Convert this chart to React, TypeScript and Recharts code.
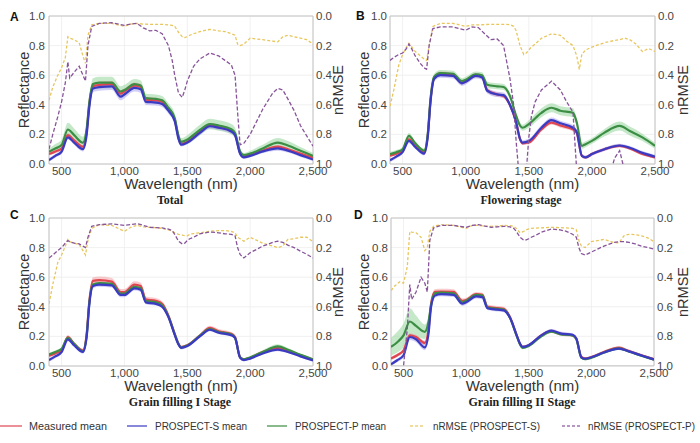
import React from 'react';
import { ComposedChart, Line, Area, XAxis, YAxis, CartesianGrid, ReferenceArea } from 'recharts';

// Wavelength grid for reflectance spectra (nm)
const WL = [400, 450, 500, 550, 600, 670, 700, 720, 750, 800, 900, 970, 1000, 1080, 1130, 1170, 1250, 1300, 1350, 1400, 1430, 1450, 1500, 1600, 1680, 1750, 1850, 1880, 1920, 1950, 2000, 2100, 2220, 2300, 2400, 2500];

// Panel A - Total
const A_MEAS = [.067, .085, .105, .195, .16, .117, .22, .40, .525, .535, .54, .476, .49, .53, .52, .435, .43, .42, .37, .30, .18, .135, .15, .215, .262, .25, .225, .20, .075, .05, .06, .09, .117, .10, .07, .043];
const A_MEAS_SD = [.012, .012, .012, .015, .012, .012, .015, .02, .02, .02, .02, .02, .02, .02, .02, .018, .018, .018, .018, .015, .012, .01, .01, .012, .015, .015, .015, .012, .01, .008, .008, .01, .012, .01, .01, .008];
const A_S = [.027, .055, .083, .18, .145, .10, .20, .38, .51, .52, .525, .455, .47, .515, .505, .42, .415, .405, .36, .29, .17, .13, .145, .21, .255, .245, .22, .195, .07, .045, .055, .085, .105, .09, .06, .03];
const A_S_SD = [.012, .012, .012, .015, .015, .015, .018, .02, .025, .025, .025, .025, .025, .025, .025, .022, .02, .02, .02, .018, .015, .012, .012, .015, .015, .015, .015, .015, .01, .01, .01, .012, .015, .012, .012, .01];
const A_P = [.083, .105, .128, .233, .195, .144, .24, .41, .54, .55, .55, .49, .50, .54, .53, .445, .44, .43, .38, .31, .19, .15, .165, .23, .27, .26, .235, .21, .085, .06, .07, .105, .145, .125, .09, .055];
const A_P_SD = [.02, .03, .035, .045, .045, .04, .035, .035, .04, .04, .04, .035, .035, .035, .035, .03, .03, .03, .03, .03, .03, .025, .03, .035, .035, .035, .035, .035, .02, .015, .02, .025, .03, .03, .025, .02];

// Panel B - Flowering stage
const B_MEAS = [.056, .07, .09, .167, .123, .08, .20, .42, .58, .61, .60, .55, .56, .60, .59, .50, .47, .46, .40, .28, .17, .14, .145, .234, .28, .26, .234, .21, .056, .045, .067, .10, .123, .105, .067, .045];
const B_MEAS_SD = [.01, .01, .01, .012, .01, .01, .015, .015, .015, .015, .015, .015, .015, .015, .015, .015, .015, .015, .015, .015, .012, .012, .012, .015, .015, .015, .015, .012, .01, .01, .01, .01, .01, .01, .01, .01];
const B_S = [.025, .05, .08, .156, .115, .07, .19, .41, .575, .60, .595, .545, .555, .595, .585, .495, .47, .465, .40, .28, .17, .145, .155, .245, .297, .275, .245, .215, .055, .045, .067, .10, .125, .11, .075, .05];
const B_S_SD = [.012, .012, .012, .015, .012, .012, .015, .018, .018, .018, .018, .018, .018, .018, .018, .018, .018, .018, .018, .015, .015, .015, .015, .018, .018, .018, .018, .015, .012, .012, .012, .012, .012, .012, .012, .012];
const B_P = [.067, .08, .10, .19, .14, .09, .21, .43, .59, .615, .61, .56, .57, .605, .60, .536, .525, .52, .46, .325, .26, .245, .27, .346, .38, .36, .346, .28, .123, .134, .156, .212, .257, .223, .18, .123];
const B_P_SD = [.015, .015, .015, .02, .015, .015, .02, .02, .02, .02, .02, .02, .02, .02, .02, .02, .02, .02, .02, .02, .02, .02, .025, .03, .03, .03, .03, .025, .02, .02, .02, .025, .03, .03, .025, .02];

// Panel C - Grain filling I
const C_MEAS = [.07, .085, .105, .195, .15, .105, .22, .43, .575, .58, .57, .50, .50, .55, .54, .45, .44, .42, .34, .217, .15, .128, .14, .206, .257, .235, .217, .195, .06, .045, .056, .094, .123, .105, .072, .042];
const C_MEAS_SD = [.012, .012, .012, .015, .012, .012, .015, .02, .025, .025, .025, .02, .02, .022, .022, .02, .02, .018, .015, .012, .01, .01, .01, .012, .015, .015, .012, .012, .008, .008, .008, .01, .01, .01, .008, .008];
const C_S = [.04, .065, .094, .18, .14, .095, .20, .41, .54, .55, .545, .48, .48, .525, .515, .43, .42, .40, .33, .21, .145, .122, .135, .20, .245, .225, .208, .19, .055, .04, .05, .085, .11, .095, .065, .038];
const C_S_SD = [.012, .012, .012, .012, .012, .012, .012, .015, .015, .015, .015, .015, .015, .015, .015, .012, .012, .012, .012, .012, .01, .01, .01, .01, .01, .01, .01, .01, .008, .008, .008, .008, .01, .008, .008, .008];
const C_P = [.078, .095, .116, .19, .15, .10, .21, .42, .55, .56, .555, .49, .49, .535, .525, .44, .43, .41, .335, .215, .15, .125, .138, .205, .25, .23, .212, .19, .06, .045, .058, .095, .132, .11, .075, .045];
const C_P_SD = [.01, .01, .01, .012, .01, .01, .01, .012, .012, .012, .012, .012, .012, .012, .012, .01, .01, .01, .01, .01, .01, .01, .01, .01, .012, .012, .01, .01, .008, .008, .01, .012, .015, .012, .01, .008];

// Panel D - Grain filling II
const D_MEAS = [.05, .072, .105, .206, .195, .155, .25, .42, .50, .503, .50, .44, .445, .485, .48, .40, .39, .385, .33, .217, .15, .128, .14, .206, .235, .217, .206, .183, .06, .05, .06, .094, .123, .10, .072, .045];
const D_MEAS_SD = [.012, .012, .012, .015, .015, .015, .015, .015, .018, .018, .018, .015, .015, .015, .015, .015, .015, .015, .012, .01, .01, .01, .01, .01, .012, .012, .01, .01, .008, .008, .008, .01, .01, .01, .008, .008];
const D_S = [.011, .038, .072, .195, .18, .125, .22, .40, .475, .485, .48, .42, .43, .47, .465, .39, .38, .375, .325, .215, .15, .128, .14, .206, .238, .22, .21, .185, .058, .048, .058, .09, .117, .098, .07, .043];
const D_S_SD = [.012, .012, .015, .02, .02, .02, .018, .015, .015, .015, .015, .015, .015, .015, .015, .012, .012, .012, .012, .01, .01, .01, .01, .01, .012, .012, .01, .01, .008, .008, .008, .008, .01, .008, .008, .008];
const D_P = [.128, .16, .206, .30, .27, .23, .30, .41, .49, .495, .49, .43, .44, .48, .475, .395, .385, .38, .325, .21, .145, .122, .135, .20, .232, .215, .205, .18, .055, .045, .055, .09, .118, .097, .068, .042];
const D_P_SD = [.06, .07, .08, .09, .07, .05, .03, .02, .012, .012, .012, .012, .012, .012, .012, .012, .012, .012, .012, .01, .01, .01, .01, .01, .01, .01, .01, .01, .008, .008, .008, .008, .01, .008, .008, .008];

// Wavelength grid for nRMSE curves (nm)
const NWL = [
  400, 430, 470, 500, 530, 550, 565, 600, 640, 670,
  690, 710, 740, 800, 900, 1000, 1050, 1100, 1150, 1200,
  1250, 1300, 1350, 1380, 1400, 1430, 1460, 1480, 1500, 1520,
  1550, 1600, 1680, 1750, 1800, 1850, 1880, 1900, 1920, 1950,
  2000, 2100, 2180, 2220, 2260, 2300, 2350, 2400, 2450, 2500,
];

const A_NS = [
  .57, .48, .40, .35, .28, .14, .15, .16, .18, .27,
  .32, .13, .06, .05, .05, .07, .055, .05, .055, .056,
  .056, .056, .06, .063, .07, .11, .14, .146, .14, .13,
  .12, .105, .09, .10, .105, .12, .13, .19, .20, .19,
  .15, .16, .17, .175, .14, .13, .14, .15, .16, .19,
];
const A_NP = [
  .90, .80, .68, .58, .45, .31, .42, .38, .34, .40,
  .44, .20, .07, .05, .045, .063, .055, .05, .08, .10,
  .097, .12, .20, .30, .40, .52, .55, .50, .44, .40,
  .34, .29, .25, .27, .30, .33, .40, .65, .87, .86,
  .80, .63, .52, .49, .50, .56, .64, .74, .81, .88,
];
const B_NS = [
  .61, .50, .33, .26, .21, .185, .20, .24, .27, .29,
  .30, .20, .07, .05, .05, .07, .06, .06, .058, .056,
  .056, .056, .058, .07, .10, .20, .26, .25, .23, .21,
  .19, .15, .12, .13, .17, .20, .27, .36, .26, .23,
  .21, .18, .165, .16, .15, .16, .19, .24, .22, .24,
];
const B_NP = [
  .30, .28, .26, .25, .22, .19, .21, .27, .32, .35,
  .36, .20, .085, .074, .074, .096, .074, .078, .12, .16,
  .155, .20, .42, .60, .85, 1.15, 1.2, 1.05, .82, .68,
  .58, .50, .44, .50, .58, .65, 1.05, 1.2, 1.2, 1.2,
  1.2, 1.2, .96, .91, 1.05, 1.2, 1.2, 1.2, 1.2, 1.2,
];
const C_NS = [
  .58, .45, .30, .25, .19, .145, .16, .17, .18, .22,
  .25, .15, .07, .045, .05, .09, .063, .05, .06, .063,
  .065, .07, .08, .09, .10, .11, .115, .12, .12, .11,
  .105, .10, .09, .085, .085, .09, .10, .13, .14, .157,
  .13, .17, .19, .20, .19, .145, .14, .13, .13, .16,
];
const C_NP = [
  .27, .25, .22, .20, .17, .152, .16, .17, .175, .19,
  .20, .13, .056, .045, .04, .05, .045, .038, .05, .063,
  .065, .067, .075, .085, .11, .157, .175, .17, .152, .14,
  .13, .107, .094, .10, .107, .11, .12, .20, .246, .27,
  .235, .19, .165, .157, .165, .183, .20, .224, .245, .27,
];
const D_NS = [
  .49, .46, .43, .44, .33, .09, .095, .10, .13, .22,
  .20, .09, .056, .045, .05, .07, .05, .05, .055, .056,
  .055, .05, .052, .056, .07, .10, .09, .08, .074, .07,
  .068, .067, .063, .065, .067, .07, .08, .15, .19, .20,
  .16, .145, .165, .168, .12, .11, .112, .12, .134, .16,
];
const D_NP = [
  1.2, 1.2, 1.15, 1.0, .75, .45, .55, .50, .40, .44,
  .50, .15, .067, .05, .05, .063, .05, .045, .055, .063,
  .06, .056, .06, .07, .09, .13, .15, .148, .14, .13,
  .12, .096, .074, .08, .09, .11, .13, .20, .24, .25,
  .23, .19, .165, .16, .16, .165, .175, .19, .20, .21,
];

const X_TICKS = [500, 1000, 1500, 2000, 2500];
const Y_TICKS = [0, 0.2, 0.4, 0.6, 0.8, 1.0];

const LEGEND_LABELS = ['Measured mean', 'PROSPECT-S mean', 'PROSPECT-P mean', 'nRMSE (PROSPECT-S)', 'nRMSE (PROSPECT-P)'];

const RED = '#e04650';
const BLUE = '#3a3ac2';
const GREEN = '#3b8e44';
const RED_BAND = '#f29aa0';
const BLUE_BAND = '#a49ff0';
const GREEN_BAND = '#96d69c';
const YELLOW = '#e8c65c';
const PURPLE = '#87549a';

const fmtX = (v: number) => v.toLocaleString('en-US');
const fmtY = (v: number) => v.toFixed(1);

type PanelProps = {
  left: number; top: number; letter: string; letterX: number; letterY: number;
  title: string; titleX: number;
  leftW: number; rightW: number; yLabelOff: number; rLabelOff: number; lTickM: number; rTickM: number;
  meas: number[]; measSd: number[]; ps: number[]; psSd: number[]; pp: number[]; ppSd: number[];
  ns: number[]; np: number[];
};

const Panel = (p: PanelProps) => {
  const rows = WL.map((w, i) => ({
    w,
    m: p.meas[i], s: p.ps[i], p: p.pp[i],
    mb: [p.meas[i] - p.measSd[i], p.meas[i] + p.measSd[i]],
    sb: [p.ps[i] - p.psSd[i], p.ps[i] + p.psSd[i]],
    pb: [p.pp[i] - p.ppSd[i], p.pp[i] + p.ppSd[i]],
  }));
  const nrows = NWL.map((w, i) => ({ w, ns: p.ns[i], np: p.np[i] }));
  const tick = { fontSize: 11.5, fill: '#454545' };
  return (
    <div style={{ position: 'absolute', left: p.left, top: p.top, width: 350, height: 205 }}>
      <ComposedChart width={350} height={205} data={rows} margin={{ top: 16, right: 0, bottom: 0, left: 0 }}>
        <CartesianGrid yAxisId="l" stroke="#ececec" strokeWidth={0.8} />
        <XAxis dataKey="w" type="number" domain={[400, 2500]} ticks={X_TICKS} interval={0} tickFormatter={fmtX}
          tickLine={false} axisLine={false} tickSize={0} tickMargin={3} height={41} tick={tick} allowDataOverflow
          label={{ value: 'Wavelength (nm)', position: 'insideBottom', offset: 16, fontSize: 15, fill: '#333' }} />
        <YAxis yAxisId="l" domain={[0, 1]} ticks={Y_TICKS} interval={0} tickFormatter={fmtY} width={p.leftW}
          tickLine={false} axisLine={false} tickSize={0} tickMargin={p.lTickM} tick={tick}
          label={{ value: 'Reflectance', angle: -90, position: 'insideLeft', offset: p.yLabelOff, fontSize: 14.5, fill: '#333', style: { textAnchor: 'middle' } }} />
        <YAxis yAxisId="r" orientation="right" reversed domain={[0, 1]} allowDataOverflow ticks={Y_TICKS} interval={0}
          tickFormatter={fmtY} width={p.rightW} tickLine={false} axisLine={false} tickSize={0} tickMargin={p.rTickM} tick={tick}
          label={{ value: 'nRMSE', angle: -90, position: 'insideRight', offset: p.rLabelOff, fontSize: 14.5, fill: '#333', style: { textAnchor: 'middle' } }} />
        <Area yAxisId="l" type="monotone" dataKey="pb" stroke="none" fill={GREEN_BAND} fillOpacity={0.55} isAnimationActive={false} activeDot={false} />
        <Area yAxisId="l" type="monotone" dataKey="mb" stroke="none" fill={RED_BAND} fillOpacity={0.5} isAnimationActive={false} activeDot={false} />
        <Area yAxisId="l" type="monotone" dataKey="sb" stroke="none" fill={BLUE_BAND} fillOpacity={0.5} isAnimationActive={false} activeDot={false} />
        <Line yAxisId="l" type="monotone" dataKey="m" stroke={RED} strokeWidth={2.2} dot={false} activeDot={false} isAnimationActive={false} />
        <Line yAxisId="l" type="monotone" dataKey="p" stroke={GREEN} strokeWidth={2.2} dot={false} activeDot={false} isAnimationActive={false} />
        <Line yAxisId="l" type="monotone" dataKey="s" stroke={BLUE} strokeWidth={2.2} dot={false} activeDot={false} isAnimationActive={false} />
        <Line yAxisId="r" data={nrows} type="linear" dataKey="ns" stroke={YELLOW} strokeWidth={1.3} strokeDasharray="3 2" dot={false} activeDot={false} isAnimationActive={false} />
        <Line yAxisId="r" data={nrows} type="linear" dataKey="np" stroke={PURPLE} strokeWidth={1.3} strokeDasharray="4 2" dot={false} activeDot={false} isAnimationActive={false} />
        <ReferenceArea yAxisId="l" x1={400} x2={2500} y1={0} y2={1} fill="none" stroke="#c4c4c4" strokeWidth={1} ifOverflow="visible" />
      </ComposedChart>
      <div style={{ position: 'absolute', left: p.letterX, top: p.letterY, fontSize: 12, fontWeight: 'bold', color: '#111', lineHeight: '14px' }}>{p.letter}</div>
      <div style={{ position: 'absolute', left: p.titleX, top: 193, transform: 'translateX(-50%)', whiteSpace: 'nowrap', fontFamily: "'Liberation Serif', 'Times New Roman', serif", fontWeight: 'bold', fontSize: 12, lineHeight: '14px', color: '#222' }}>{p.title}</div>
    </div>
  );
};

const Legend = () => {
  const colors = [RED, BLUE, GREEN, YELLOW, PURPLE];
  const dashes = [undefined, undefined, undefined, '3 2', '3 2'];
  const lineX = [0, 127, 267, 410, 562];
  const lineW = [22, 20, 20, 15, 18];
  const textX = [29, 155, 295, 433, 588];
  const textW = [78, 92, 91, 107, 107];
  return (
    <svg width={700} height={22} style={{ position: 'absolute', left: 0, top: 415 }}>
      {LEGEND_LABELS.map((label, i) => (
        <g key={label}>
          <line x1={lineX[i]} x2={lineX[i] + lineW[i]} y1={11} y2={11} stroke={colors[i]} strokeWidth={1.5} strokeDasharray={dashes[i]} opacity={0.8} />
          <text x={textX[i]} y={15} fontSize={10} fill="#333" textLength={textW[i]} lengthAdjust="spacingAndGlyphs">{label}</text>
        </g>
      ))}
    </svg>
  );
};

export default function App() {
  return (
    <div style={{ position: 'relative', width: 700, height: 443, background: '#fff', fontFamily: "'Liberation Sans', Arial, sans-serif", overflow: 'hidden' }}>
      <style>{'body{margin:0;}'}</style>
      <Panel left={0} top={0} letter="A" letterX={10} letterY={10} title="Total" titleX={170}
        leftW={49} rightW={37} yLabelOff={24} rLabelOff={12} lTickM={4} rTickM={3}
        meas={A_MEAS} measSd={A_MEAS_SD} ps={A_S} psSd={A_S_SD} pp={A_P} ppSd={A_P_SD} ns={A_NS} np={A_NP} />
      <Panel left={350} top={0} letter="B" letterX={6} letterY={9} title="Flowering stage" titleX={171}
        leftW={40} rightW={45} yLabelOff={14} rLabelOff={17} lTickM={3} rTickM={3}
        meas={B_MEAS} measSd={B_MEAS_SD} ps={B_S} psSd={B_S_SD} pp={B_P} ppSd={B_P_SD} ns={B_NS} np={B_NP} />
      <Panel left={0} top={202} letter="C" letterX={10} letterY={6} title="Grain filling I Stage" titleX={180}
        leftW={49} rightW={37} yLabelOff={24} rLabelOff={12} lTickM={4} rTickM={3}
        meas={C_MEAS} measSd={C_MEAS_SD} ps={C_S} psSd={C_S_SD} pp={C_P} ppSd={C_P_SD} ns={C_NS} np={C_NP} />
      <Panel left={350} top={202} letter="D" letterX={4} letterY={6} title="Grain filling II Stage" titleX={172}
        leftW={41} rightW={46} yLabelOff={14} rLabelOff={17} lTickM={3} rTickM={3}
        meas={D_MEAS} measSd={D_MEAS_SD} ps={D_S} psSd={D_S_SD} pp={D_P} ppSd={D_P_SD} ns={D_NS} np={D_NP} />
      <Legend />
    </div>
  );
}
